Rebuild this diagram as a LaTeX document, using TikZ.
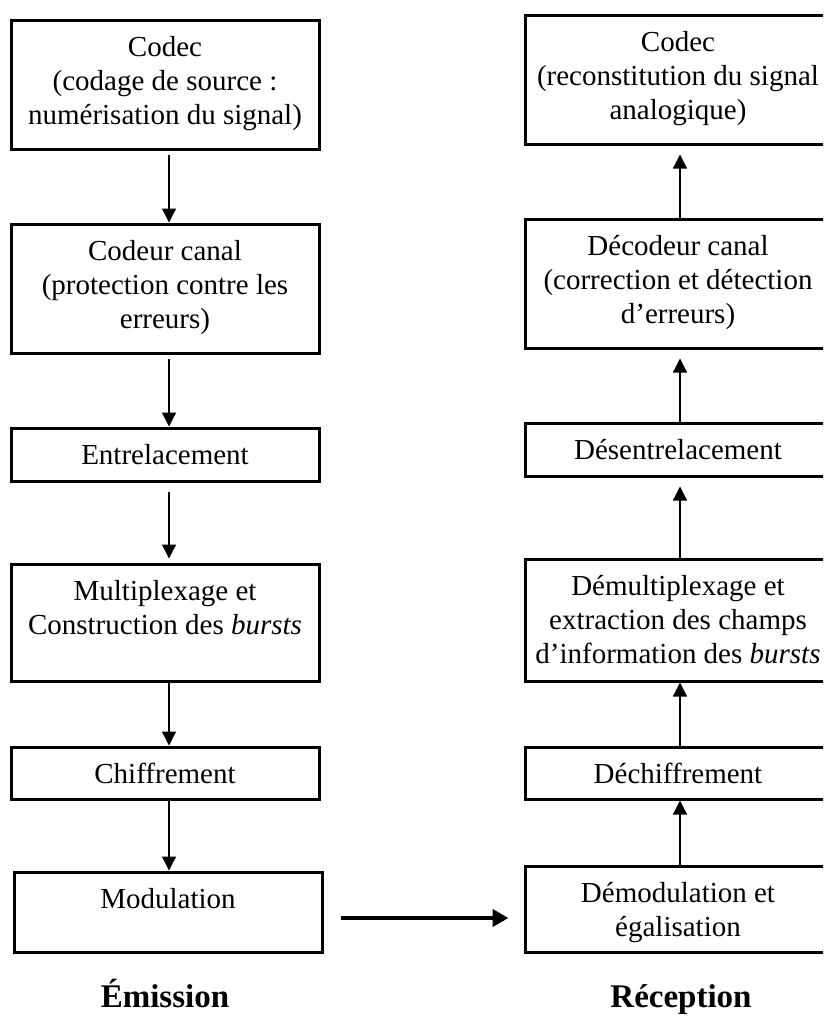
\documentclass[tikz,border=0pt]{standalone}
\usepackage{fontspec}
\setmainfont{Liberation Serif}
\usetikzlibrary{arrows.meta,calc}
\newcommand{\btext}[2]{\parbox[c][#1][t]{300pt}{\centering\fontsize{29}{34}\selectfont\rule{0pt}{36.5pt}#2}}
\begin{document}
\begin{tikzpicture}[x=1pt,y=-1pt,
  box/.style={draw, line width=3pt, inner sep=0pt},
  lbox/.style={box, minimum width=308pt},
  rbox/.style={box, minimum width=306pt},
  flow/.style={line width=1.3pt, -{Triangle[length=14pt,width=14pt]}},
  bigflow/.style={line width=4pt, -{Triangle[length=16pt,width=17pt]}},
  titletext/.style={font=\fontsize{33}{40}\selectfont\bfseries, anchor=base}]
\useasboundingbox (0,0) rectangle (823,1018);
\clip (0,0) rectangle (823,1018);
% left column
\node[lbox] (c1) at (165,84.5) {\btext{129pt}{Codec\\(codage de source :\\numérisation du signal)}};
\node[lbox] (c2) at (165,288.5) {\btext{129pt}{Codeur canal\\(protection contre les\\erreurs)}};
\node[lbox] (c3) at (165,454.5) {\btext{53pt}{Entrelacement}};
\node[lbox] (c4) at (165,622.5) {\btext{117pt}{Multiplexage et\\Construction des \textit{bursts}}};
\node[lbox] (c5) at (165,773) {\btext{52pt}{Chiffrement}};
\node[lbox] (c6) at (168,912) {\btext{80pt}{Modulation}};
% right column
\node[rbox] (d1) at (678,79.5) {\btext{129pt}{Codec\\(reconstitution du signal\\analogique)}};
\node[rbox] (d2) at (678,283.5) {\btext{129pt}{Décodeur canal\\(correction et détection\\d’erreurs)}};
\node[rbox] (d3) at (678,449.5) {\btext{53pt}{Désentrelacement}};
\node[rbox] (d4) at (678,620) {\btext{122pt}{Démultiplexage et\\extraction des champs\\d’information des \textit{bursts}}};
\node[rbox] (d5) at (678,773) {\btext{52pt}{Déchiffrement}};
\node[rbox] (d6) at (678,909) {\btext{86pt}{Démodulation et\\égalisation}};
% titles
\node[titletext] (t1) at (165,1007) {Émission};
\node[titletext] (t2) at (681,1007) {Réception};
% left arrows
\draw[flow, shorten <=4pt] ([xshift=4pt]c1.south) -- ([xshift=4pt]c2.north);
\draw[flow, shorten <=4pt] ([xshift=4pt]c2.south) -- ([xshift=4pt]c3.north);
\draw[flow, shorten <=9pt, shorten >=4pt] ([xshift=4pt]c3.south) -- ([xshift=4pt]c4.north);
\draw[flow] ([xshift=4pt]c4.south) -- ([xshift=4pt]c5.north);
\draw[flow] ([xshift=4pt]c5.south) -- ([xshift=1pt]c6.north);
% right arrows
\draw[flow] ([xshift=2pt]d6.north) -- ([xshift=2pt]d5.south);
\draw[flow] ([xshift=2pt]d5.north) -- ([xshift=2pt]d4.south);
\draw[flow, shorten >=9pt] ([xshift=2pt]d4.north) -- ([xshift=2pt]d3.south);
\draw[flow, shorten >=9pt] ([xshift=2pt]d3.north) -- ([xshift=2pt]d2.south);
\draw[flow, shorten >=9pt] ([xshift=2pt]d2.north) -- ([xshift=2pt]d1.south);
% transmission arrow
\draw[bigflow, shorten <=17pt, shorten >=15pt] ($(c6.east)+(0,6)$) coordinate (h1) -- (h1 -| d6.west);
\end{tikzpicture}
\end{document}
